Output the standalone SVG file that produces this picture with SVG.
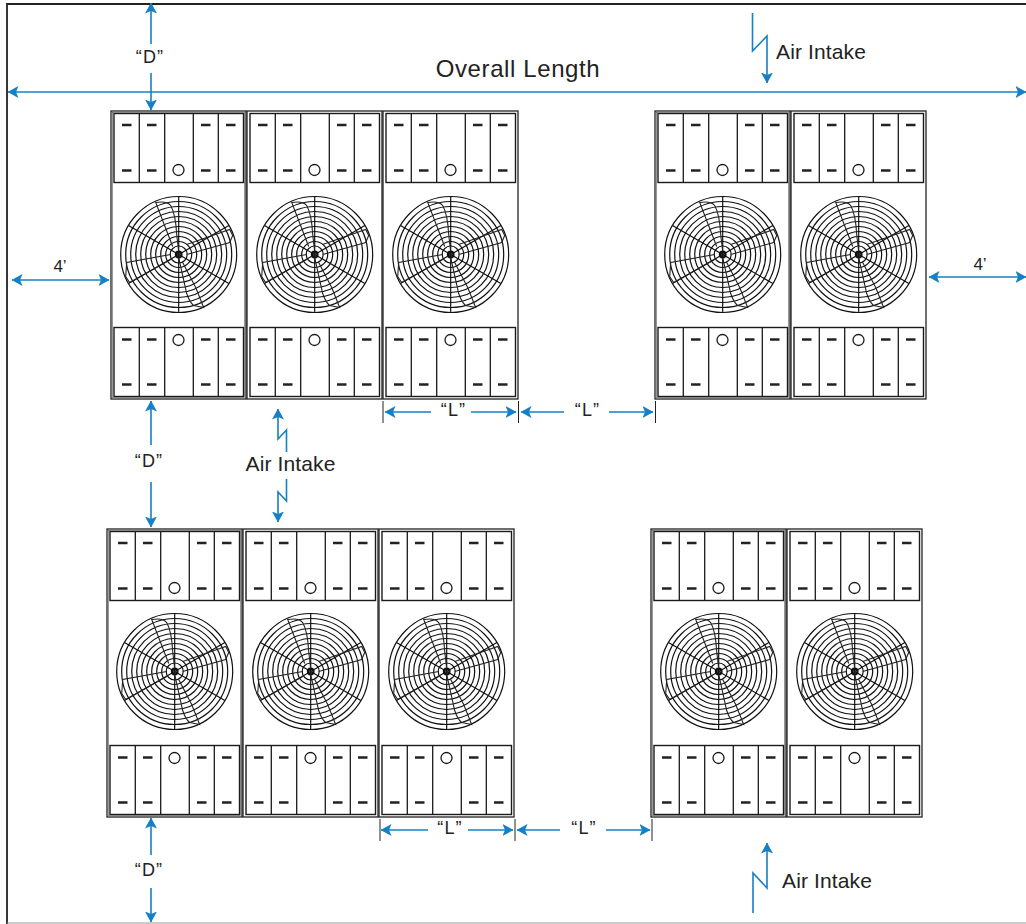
<svg xmlns="http://www.w3.org/2000/svg" width="1026" height="924" viewBox="0 0 1026 924">
<style>
.b{fill:none;stroke:#1a1a1a;stroke-width:1.3}
.p{fill:#fff;stroke:#1a1a1a;stroke-width:1.4}
.o{fill:none;stroke:#222;stroke-width:1.3}
.i{fill:none;stroke:#555;stroke-width:.6}
.r{fill:none;stroke:#111;stroke-width:1.2}
.l{fill:none;stroke:#222;stroke-width:1.1}
.d{stroke:#222;stroke-width:2.5}
.c{fill:none;stroke:#1580c5;stroke-width:1.6}
.t{font-family:"Liberation Sans",Arial,sans-serif;fill:#222;text-anchor:middle}
.q{font-size:18px;letter-spacing:1.2px}
.n{font-size:21px;letter-spacing:.12px}
</style>
<defs>
<marker id="a" viewBox="0 0 11 12" refX="10.500" refY="6" markerWidth="11" markerHeight="12" markerUnits="userSpaceOnUse" orient="auto-start-reverse"><path d="M0 0L11 6L0 12L2.500 6Z" fill="#1580c5"/></marker>
<g id="panel">
<rect class="p" x="114" y="0" width="129.500" height="69"/>
<path class="b" d="M139.300 0V69M164.700 0V69M193.300 0V69M218.300 0V69"/>
</g>
<rect id="inner" class="i" x="112.600" y="112.600" width="132" height="285"/>
<g id="unit">
<rect class="o" x="111" y="111" width="135" height="288"/>
<use href="#panel" y="113.500"/>
<use href="#panel" y="327.500"/>
<path class="d" d="M122 125h9.500M147 125h9.500M201 125h9.500M226 125h9.500M122 170.500h9.500M147 170.500h9.500M201 170.500h9.500M226 170.500h9.500M122 339.500h9.500M147 339.500h9.500M201 339.500h9.500M226 339.500h9.500M122 384.500h9.500M147 384.500h9.500M201 384.500h9.500M226 384.500h9.500"/>
<circle class="b" cx="178.500" cy="170" r="5.500"/>
<circle class="b" cx="178.500" cy="340" r="5.500"/>
</g>
<g id="fan">
<g class="r">
<circle r="58"/><circle r="53"/><circle r="48"/><circle r="43"/><circle r="38"/><circle r="33"/><circle r="28"/><circle r="23"/><circle r="18"/><circle r="13"/><circle r="8.500"/>
<circle r="2.800" stroke-width="2.200"/>
<path d="M0-58V58M-50.200-29L50.200 29M-50.200 29L50.200-29"/>
</g>
<path class="l" d="M-6-8L-23-52Q-12-54-8-49Q-3-40-2-20L0-3"/>
<path class="l" d="M8-10L51-25L54-19L51-12L8 0"/>
<path class="l" d="M-8 0L-52 8L-53 22L-49 28L-8 5"/>
<path class="l" d="M0 3L8 39Q11 48 15 51L25 53L17 33L4 8"/>
</g>
</defs>
<rect width="1026" height="924" fill="#fff"/>
<path d="M7 924V4H1026" fill="none" stroke="#222" stroke-width="1.800"/>
<path d="M7 923H1026" fill="none" stroke="#999" stroke-width="1.200"/>
<g id="unit-a1"><use href="#unit"/><use href="#inner"/><use href="#fan" x="178.700" y="254.500"/></g>
<g id="unit-a2"><use href="#unit" x="136"/><use href="#fan" x="314.700" y="254.500"/></g>
<g id="unit-a3"><use href="#unit" x="272"/><use href="#fan" x="450.700" y="254.500"/></g>
<g id="unit-a4"><use href="#unit" x="544"/><use href="#inner" x="544"/><use href="#fan" x="722.700" y="254.500"/></g>
<g id="unit-a5"><use href="#unit" x="680"/><use href="#fan" x="858.700" y="254.500"/></g>
<g id="unit-b1"><use href="#unit" x="-4" y="418"/><use href="#inner" x="-4" y="418"/><use href="#fan" x="174.700" y="671.500"/></g>
<g id="unit-b2"><use href="#unit" x="132" y="418"/><use href="#fan" x="310.700" y="671.500"/></g>
<g id="unit-b3"><use href="#unit" x="268" y="418"/><use href="#fan" x="446.700" y="671.500"/></g>
<g id="unit-b4"><use href="#unit" x="540" y="418"/><use href="#inner" x="540" y="418"/><use href="#fan" x="718.700" y="671.500"/></g>
<g id="unit-b5"><use href="#unit" x="676" y="418"/><use href="#fan" x="854.700" y="671.500"/></g>
<g id="connectors">
<path class="c" marker-end="url(#a)" d="M151 44V3"/>
<path class="c" marker-end="url(#a)" d="M151 73V110"/>
<path class="c" marker-start="url(#a)" marker-end="url(#a)" d="M8 92H1026"/>
<path class="c" marker-start="url(#a)" marker-end="url(#a)" d="M12 280H109"/>
<path class="c" marker-start="url(#a)" marker-end="url(#a)" d="M929 277H1026"/>
<path class="c" marker-end="url(#a)" d="M752.500 13V51L767 36V83"/>
<path class="c" marker-end="url(#a)" d="M151 445V401"/>
<path class="c" marker-end="url(#a)" d="M151 482V527"/>
<path class="c" marker-end="url(#a)" d="M286.500 452V430L278 439V409"/>
<path class="c" marker-end="url(#a)" d="M286.500 479V501L278 492V522"/>
<path class="c" marker-end="url(#a)" d="M431 412H385"/>
<path class="c" marker-end="url(#a)" d="M471 412H516"/>
<path class="c" marker-end="url(#a)" d="M564 412H521"/>
<path class="c" marker-end="url(#a)" d="M609 412H653"/>
<path class="c" marker-end="url(#a)" d="M428 830H381"/>
<path class="c" marker-end="url(#a)" d="M468 830H513"/>
<path class="c" marker-end="url(#a)" d="M560 830H517"/>
<path class="c" marker-end="url(#a)" d="M606 830H650"/>
<path class="c" marker-end="url(#a)" d="M151 855V818"/>
<path class="c" marker-end="url(#a)" d="M151 888V922"/>
<path class="c" marker-end="url(#a)" d="M753 913V873L767 888V843"/>
<path stroke="#222" stroke-width="1" fill="none" d="M383 401V423M518.500 401V423M655.500 401V423M380 819V841M515 819V841M652 819V841"/>
</g>
<g id="labels">
<text class="t q" x="150" y="63">“D”</text>
<text class="t" x="60" y="272" font-size="17">4’</text>
<text class="t" x="980" y="270" font-size="17">4’</text>
<text class="t" x="518" y="77" font-size="24" letter-spacing=".6">Overall Length</text>
<text class="t n" x="821" y="59">Air Intake</text>
<text class="t q" x="149" y="467">“D”</text>
<text class="t n" x="290.500" y="471">Air Intake</text>
<text class="t q" x="453.500" y="416">“L”</text>
<text class="t q" x="587.500" y="416">“L”</text>
<text class="t q" x="450" y="834">“L”</text>
<text class="t q" x="584" y="834">“L”</text>
<text class="t q" x="149" y="876">“D”</text>
<text class="t n" x="827" y="888">Air Intake</text>
</g>
</svg>
